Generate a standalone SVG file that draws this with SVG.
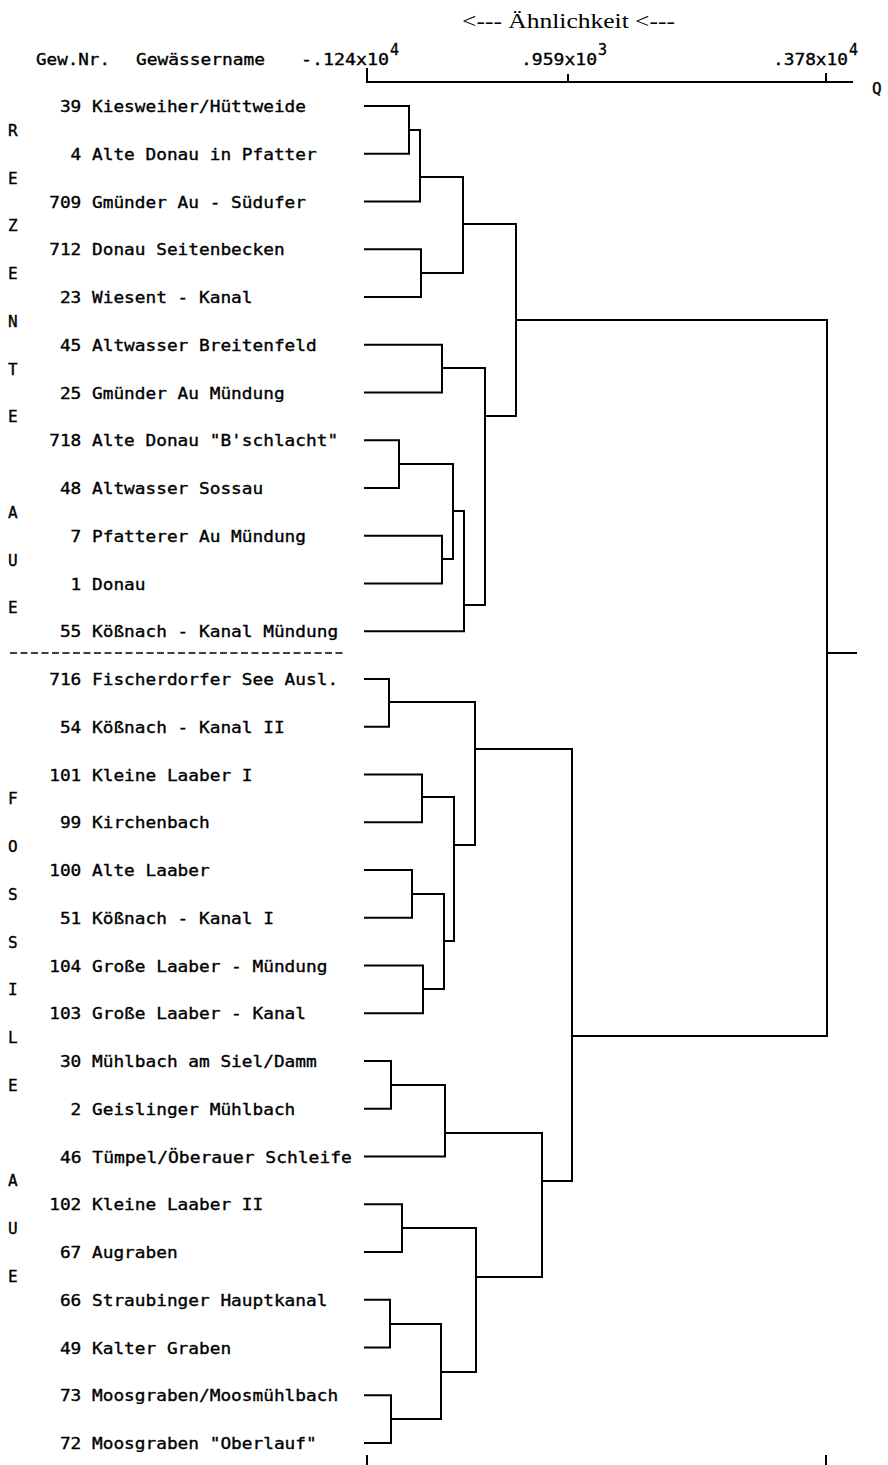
<svg xmlns="http://www.w3.org/2000/svg" width="888" height="1465" viewBox="0 0 888 1465">
<style>
.t{font-family:"DejaVu Sans Mono","Liberation Mono",monospace;font-size:16px;fill:#000;stroke:#000;stroke-width:0.35}
.s{font-family:"DejaVu Sans Mono","Liberation Mono",monospace;font-size:15px;fill:#000;stroke:#000;stroke-width:0.35}
.ser{font-family:"Liberation Serif","DejaVu Serif",serif;font-size:20px;fill:#000}
.ln{fill:none;stroke:#000;stroke-width:2;stroke-linejoin:miter}
.dash{fill:none;stroke:#000;stroke-width:1.6;stroke-dasharray:7 3.5}
</style>
<rect width="888" height="1465" fill="#fff"/>
<g id="header">
<text class="ser" x="462" y="28" textLength="213" lengthAdjust="spacingAndGlyphs">&lt;--- Ähnlichkeit &lt;---</text>
<text class="t" x="36" y="65" textLength="74" lengthAdjust="spacingAndGlyphs">Gew.Nr.</text>
<text class="t" x="136" y="65" textLength="129" lengthAdjust="spacingAndGlyphs">Gewässername</text>
</g>
<g id="axis">
<text class="t" x="301" y="65" textLength="88" lengthAdjust="spacingAndGlyphs">-.124x10</text>
<text class="s" x="390" y="55">4</text>
<text class="t" x="521" y="65" textLength="76" lengthAdjust="spacingAndGlyphs">.959x10</text>
<text class="s" x="598" y="55">3</text>
<text class="t" x="773" y="65" textLength="75" lengthAdjust="spacingAndGlyphs">.378x10</text>
<text class="s" x="849" y="55">4</text>
<text class="t" x="872" y="94">Q</text>
<path class="ln" d="M367,68 V82 H853 M568,74 V82 M826,73 V82 M367,1455 V1465 M826,1455 V1465"/>
</g>
<g id="groups">
<text class="t" x="8" y="136">R</text>
<text class="t" x="8" y="183.6">E</text>
<text class="t" x="8" y="231.4">Z</text>
<text class="t" x="8" y="279.1">E</text>
<text class="t" x="8" y="326.9">N</text>
<text class="t" x="8" y="374.6">T</text>
<text class="t" x="8" y="422.4">E</text>
<text class="t" x="8" y="517.9">A</text>
<text class="t" x="8" y="565.6">U</text>
<text class="t" x="8" y="613.4">E</text>
<path class="dash" d="M10,653 H344"/>
<text class="t" x="8" y="804.4">F</text>
<text class="t" x="8" y="852.1">O</text>
<text class="t" x="8" y="899.9">S</text>
<text class="t" x="8" y="947.6">S</text>
<text class="t" x="8" y="995.4">I</text>
<text class="t" x="8" y="1043.1">L</text>
<text class="t" x="8" y="1090.9">E</text>
<text class="t" x="8" y="1186.4">A</text>
<text class="t" x="8" y="1234.1">U</text>
<text class="t" x="8" y="1281.9">E</text>
</g>
<g id="leaves">
<g id="leaf39"><text class="t" x="59.9" y="112" textLength="246.1" lengthAdjust="spacingAndGlyphs">39 Kiesweiher/Hüttweide</text></g>
<g id="leaf4"><text class="t" x="70.6" y="159.75" textLength="246.1" lengthAdjust="spacingAndGlyphs">4 Alte Donau in Pfatter</text></g>
<g id="leaf709"><text class="t" x="49.2" y="207.5" textLength="256.8" lengthAdjust="spacingAndGlyphs">709 Gmünder Au - Südufer</text></g>
<g id="leaf712"><text class="t" x="49.2" y="255.25" textLength="235.4" lengthAdjust="spacingAndGlyphs">712 Donau Seitenbecken</text></g>
<g id="leaf23"><text class="t" x="59.9" y="303" textLength="192.6" lengthAdjust="spacingAndGlyphs">23 Wiesent - Kanal</text></g>
<g id="leaf45"><text class="t" x="59.9" y="350.75" textLength="256.8" lengthAdjust="spacingAndGlyphs">45 Altwasser Breitenfeld</text></g>
<g id="leaf25"><text class="t" x="59.9" y="398.5" textLength="224.7" lengthAdjust="spacingAndGlyphs">25 Gmünder Au Mündung</text></g>
<g id="leaf718"><text class="t" x="49.2" y="446.25" textLength="288.9" lengthAdjust="spacingAndGlyphs">718 Alte Donau "B'schlacht"</text></g>
<g id="leaf48"><text class="t" x="59.9" y="494" textLength="203.3" lengthAdjust="spacingAndGlyphs">48 Altwasser Sossau</text></g>
<g id="leaf7"><text class="t" x="70.6" y="541.75" textLength="235.4" lengthAdjust="spacingAndGlyphs">7 Pfatterer Au Mündung</text></g>
<g id="leaf1"><text class="t" x="70.6" y="589.5" textLength="74.9" lengthAdjust="spacingAndGlyphs">1 Donau</text></g>
<g id="leaf55"><text class="t" x="59.9" y="637.25" textLength="278.2" lengthAdjust="spacingAndGlyphs">55 Kößnach - Kanal Mündung</text></g>
<g id="leaf716"><text class="t" x="49.2" y="685" textLength="288.9" lengthAdjust="spacingAndGlyphs">716 Fischerdorfer See Ausl.</text></g>
<g id="leaf54"><text class="t" x="59.9" y="732.75" textLength="224.7" lengthAdjust="spacingAndGlyphs">54 Kößnach - Kanal II</text></g>
<g id="leaf101"><text class="t" x="49.2" y="780.5" textLength="203.3" lengthAdjust="spacingAndGlyphs">101 Kleine Laaber I</text></g>
<g id="leaf99"><text class="t" x="59.9" y="828.25" textLength="149.8" lengthAdjust="spacingAndGlyphs">99 Kirchenbach</text></g>
<g id="leaf100"><text class="t" x="49.2" y="876" textLength="160.5" lengthAdjust="spacingAndGlyphs">100 Alte Laaber</text></g>
<g id="leaf51"><text class="t" x="59.9" y="923.75" textLength="214" lengthAdjust="spacingAndGlyphs">51 Kößnach - Kanal I</text></g>
<g id="leaf104"><text class="t" x="49.2" y="971.5" textLength="278.2" lengthAdjust="spacingAndGlyphs">104 Große Laaber - Mündung</text></g>
<g id="leaf103"><text class="t" x="49.2" y="1019.25" textLength="256.8" lengthAdjust="spacingAndGlyphs">103 Große Laaber - Kanal</text></g>
<g id="leaf30"><text class="t" x="59.9" y="1067" textLength="256.8" lengthAdjust="spacingAndGlyphs">30 Mühlbach am Siel/Damm</text></g>
<g id="leaf2"><text class="t" x="70.6" y="1114.75" textLength="224.7" lengthAdjust="spacingAndGlyphs">2 Geislinger Mühlbach</text></g>
<g id="leaf46"><text class="t" x="59.9" y="1162.5" textLength="292" lengthAdjust="spacingAndGlyphs">46 Tümpel/Öberauer Schleife</text></g>
<g id="leaf102"><text class="t" x="49.2" y="1210.25" textLength="214" lengthAdjust="spacingAndGlyphs">102 Kleine Laaber II</text></g>
<g id="leaf67"><text class="t" x="59.9" y="1258" textLength="117.7" lengthAdjust="spacingAndGlyphs">67 Augraben</text></g>
<g id="leaf66"><text class="t" x="59.9" y="1305.75" textLength="267.5" lengthAdjust="spacingAndGlyphs">66 Straubinger Hauptkanal</text></g>
<g id="leaf49"><text class="t" x="59.9" y="1353.5" textLength="171.2" lengthAdjust="spacingAndGlyphs">49 Kalter Graben</text></g>
<g id="leaf73"><text class="t" x="59.9" y="1401.25" textLength="278.2" lengthAdjust="spacingAndGlyphs">73 Moosgraben/Moosmühlbach</text></g>
<g id="leaf72"><text class="t" x="59.9" y="1449" textLength="256.8" lengthAdjust="spacingAndGlyphs">72 Moosgraben "Oberlauf"</text></g>
</g>
<g id="connectors">
<path class="ln" d="M364,106 H409 V153.75 H364"/>
<path class="ln" d="M409,130 H420 V201.5 H364"/>
<path class="ln" d="M364,249.25 H421 V297 H364"/>
<path class="ln" d="M420,177 H463 V273 H421"/>
<path class="ln" d="M364,344.75 H442 V392.5 H364"/>
<path class="ln" d="M364,440.25 H399 V488 H364"/>
<path class="ln" d="M364,535.75 H442 V583.5 H364"/>
<path class="ln" d="M399,464 H453 V559 H442"/>
<path class="ln" d="M453,511 H464 V631.25 H364"/>
<path class="ln" d="M442,368 H485 V605 H464"/>
<path class="ln" d="M463,224 H516 V416 H485"/>
<path class="ln" d="M364,679 H389 V726.75 H364"/>
<path class="ln" d="M364,774.5 H422 V822.25 H364"/>
<path class="ln" d="M364,870 H412 V917.75 H364"/>
<path class="ln" d="M364,965.5 H423 V1013.25 H364"/>
<path class="ln" d="M412,894 H444 V989 H423"/>
<path class="ln" d="M422,797 H454 V941 H444"/>
<path class="ln" d="M389,702 H475 V845 H454"/>
<path class="ln" d="M364,1061 H391 V1108.75 H364"/>
<path class="ln" d="M391,1085 H445 V1156.5 H364"/>
<path class="ln" d="M364,1204.25 H402 V1252 H364"/>
<path class="ln" d="M364,1299.75 H390 V1347.5 H364"/>
<path class="ln" d="M364,1395.25 H391 V1443 H364"/>
<path class="ln" d="M390,1324 H441 V1419 H391"/>
<path class="ln" d="M402,1228 H476 V1372 H441"/>
<path class="ln" d="M445,1133 H542 V1277 H476"/>
<path class="ln" d="M475,749 H572 V1181 H542"/>
<path class="ln" d="M516,320 H827 V1036 H572"/>
<path class="ln" d="M827,653 H857"/>
</g>
</svg>
